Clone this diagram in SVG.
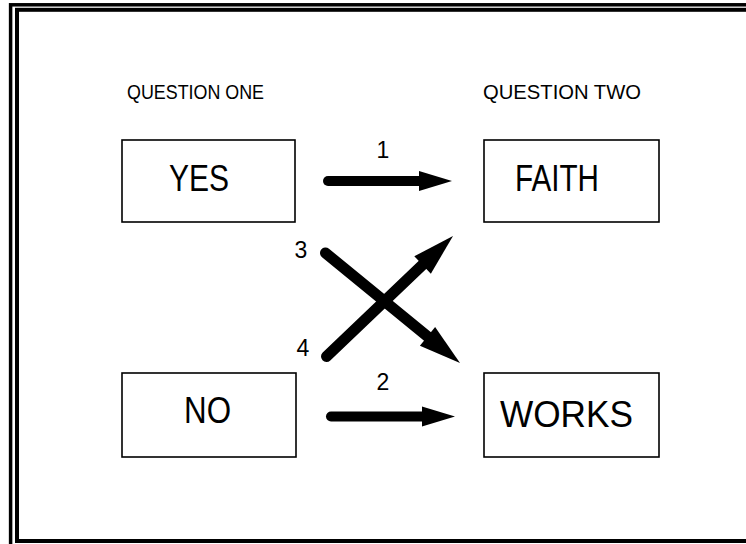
<svg xmlns="http://www.w3.org/2000/svg" width="746" height="544" viewBox="0 0 746 544">
<style>
.frame{fill:none;stroke:#000}
.box{fill:#fff;stroke:#000;stroke-width:1.6}
.big{font-family:"Liberation Sans",Arial,sans-serif;font-size:37px;fill:#000}
.hdr{font-family:"Liberation Sans",Arial,sans-serif;font-size:20px;fill:#000}
.num{font-family:"Liberation Sans",Arial,sans-serif;font-size:23px;fill:#000;text-anchor:middle}
.shaft{stroke:#000;stroke-width:10;stroke-linecap:round;fill:none}
.dshaft{stroke:#000;stroke-width:11;stroke-linecap:round;fill:none}
</style>
<defs>
<path id="headH" d="M0,0 L-33,-10 L-33,10 Z" fill="#000"/>
<path id="headD" d="M0,0 L-42,-12 L-42,12 Z" fill="#000"/>
</defs>
<rect width="746" height="544" fill="#fff"/>
<g id="frame">
<rect class="frame" x="10.6" y="4.8" width="760" height="560" stroke-width="3.5"/>
<rect class="frame" x="17" y="9.8" width="760" height="531.2" stroke-width="4"/>
</g>
<text class="hdr" x="127" y="98.5" textLength="137" lengthAdjust="spacingAndGlyphs">QUESTION ONE</text>
<text class="hdr" x="483" y="98.5" textLength="158" lengthAdjust="spacingAndGlyphs">QUESTION TWO</text>
<g id="yes">
<rect class="box" x="122" y="140" width="173" height="82"/>
<text class="big" x="169" y="191" textLength="60" lengthAdjust="spacingAndGlyphs">YES</text>
</g>
<g id="faith">
<rect class="box" x="484" y="140" width="175" height="82"/>
<text class="big" x="515" y="191" textLength="84" lengthAdjust="spacingAndGlyphs">FAITH</text>
</g>
<g id="no">
<rect class="box" x="122" y="373" width="174" height="84"/>
<text class="big" x="184" y="423" textLength="47" lengthAdjust="spacingAndGlyphs">NO</text>
</g>
<g id="works">
<rect class="box" x="484" y="373" width="175" height="84"/>
<text class="big" x="500" y="427" textLength="133" lengthAdjust="spacingAndGlyphs">WORKS</text>
</g>
<g id="connectors">
<line class="shaft" x1="328" y1="181" x2="422" y2="181"/>
<use href="#headH" transform="translate(452,181)"/>
<line class="shaft" x1="331" y1="416.5" x2="424" y2="416.5"/>
<use href="#headH" transform="translate(455,416.5)"/>
<line class="dshaft" x1="325.5" y1="253" x2="430" y2="338.5"/>
<use href="#headD" transform="translate(460,363) rotate(39.3)"/>
<line class="dshaft" x1="326.5" y1="356.5" x2="425" y2="262.5"/>
<use href="#headD" transform="translate(453,236) rotate(-43.6)"/>
<text class="num" x="383" y="158">1</text>
<text class="num" x="383" y="390">2</text>
<text class="num" x="301" y="258">3</text>
<text class="num" x="303" y="356">4</text>
</g>
</svg>
